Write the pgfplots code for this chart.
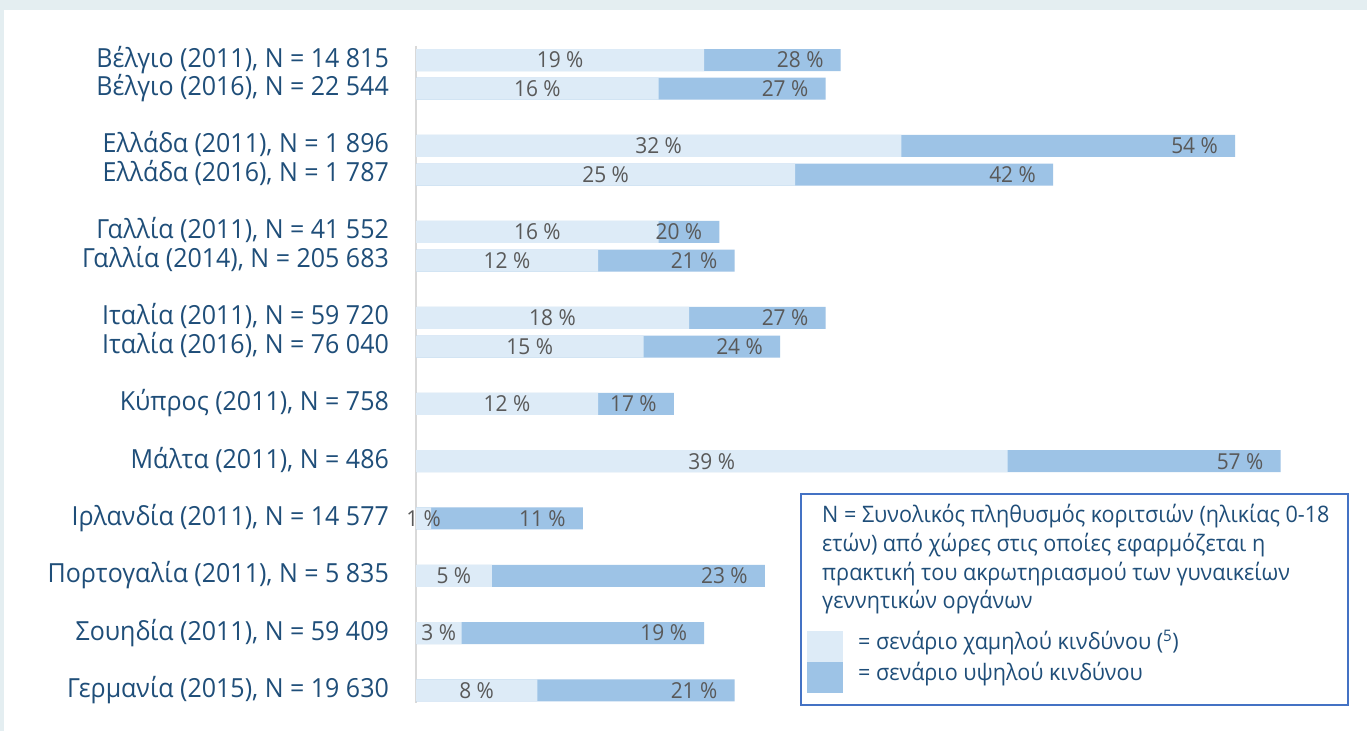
\documentclass[border=0pt]{standalone}
\usepackage{fontspec}
\setmainfont{Open Sans}[FakeStretch=0.95]
\usepackage{pgfplots}
\usepackage{pgfplotstable}
\pgfplotsset{compat=1.18}
\definecolor{bgstrip}{RGB}{228,238,241}
\definecolor{lightbar}{RGB}{221,235,247}
\definecolor{darkbar}{RGB}{157,195,230}
\definecolor{labgray}{RGB}{89,89,89}
\definecolor{navy}{RGB}{31,78,121}
\definecolor{axisgray}{RGB}{217,217,217}
\definecolor{boxblue}{RGB}{68,114,196}

\pgfplotstableread{
y low high
0 19 28
1 16 27
3 32 54
4 25 42
6 16 20
7 12 21
9 18 27
10 15 24
12 12 17
14 39 57
16 1 11
18 5 23
20 3 19
22 8 21
}\data

\begin{document}
\begin{tikzpicture}[x=1pt,y=1pt]
\fill[bgstrip] (0,0) rectangle (1367,731);
\fill[white] (4,0) rectangle (1367,721);
\begin{axis}[
  at={(416pt,28pt)}, anchor=south west,
  scale only axis, width=910pt, height=657pt,
  xmin=0, xmax=60, ymin=-0.49, ymax=22.44,
  y dir=reverse, clip=false,
  axis x line=none, axis y line*=left,
  y axis line style={draw=axisgray, line width=2pt},
  major tick length=0pt,
  ytick={0,1,3,4,6,7,9,10,12,14,16,18,20,22},
  yticklabels={
    {Βέλγιο (2011), N = 14 815},
    {Βέλγιο (2016), N = 22 544},
    {Ελλάδα (2011), N = 1 896},
    {Ελλάδα (2016), N = 1 787},
    {Γαλλία (2011), N = 41 552},
    {Γαλλία (2014), N = 205 683},
    {Ιταλία (2011), N = 59 720},
    {Ιταλία (2016), N = 76 040},
    {Κύπρος (2011), N = 758},
    {Μάλτα (2011), N = 486},
    {Ιρλανδία (2011), N = 14 577},
    {Πορτογαλία (2011), N = 5 835},
    {Σουηδία (2011), N = 59 409},
    {Γερμανία (2015), N = 19 630}},
  yticklabel style={font=\fontsize{26.3}{30}\selectfont, text=navy, anchor=base east, inner sep=0pt, xshift=-27pt, yshift=-7pt},
]
\addplot[xbar, bar width=22pt, bar shift=0pt, fill=darkbar, draw=none] table[x=high, y=y] {\data};
\addplot[xbar, bar width=22pt, bar shift=0pt, fill=lightbar, draw=none] table[x=low, y=y] {\data};
\addplot[draw=none, point meta=explicit symbolic, nodes near coords={\pgfplotspointmeta~\%},
  nodes near coords style={anchor=center, inner sep=0pt, text=labgray, font=\fontsize{22}{26}\selectfont}]
  table[x expr=\thisrow{low}/2, y=y, meta=low] {\data};
\addplot[draw=none, point meta=explicit symbolic, nodes near coords={\pgfplotspointmeta~\%},
  nodes near coords style={anchor=east, xshift=-17pt, inner sep=0pt, text=labgray, font=\fontsize{22}{26}\selectfont}]
  table[x=high, y=y, meta=high] {\data};
\end{axis}
% legend box
\draw[boxblue, line width=2pt] (801,731-494) rectangle (1348,731-705);
\begin{scope}[every node/.style={anchor=base west, inner sep=0pt, text=navy, font=\fontsize{22.7}{28}\selectfont}]
\node at (822,731-523) {N = Συνολικός πληθυσμός κοριτσιών (ηλικίας 0-18};
\node at (822,731-551.5) {ετών) από χώρες στις οποίες εφαρμόζεται η};
\node at (822,731-580) {πρακτική του ακρωτηριασμού των γυναικείων};
\node at (822,731-608.5) {γεννητικών οργάνων};
\fill[lightbar] (807,731-631) rectangle (843,731-662);
\fill[darkbar] (807,731-662) rectangle (843,731-693);
\node at (858,731-649) {= σενάριο χαμηλού κινδύνου (\textsuperscript{5})};
\node at (858,731-680) {= σενάριο υψηλού κινδύνου};
\end{scope}
\end{tikzpicture}
\end{document}
